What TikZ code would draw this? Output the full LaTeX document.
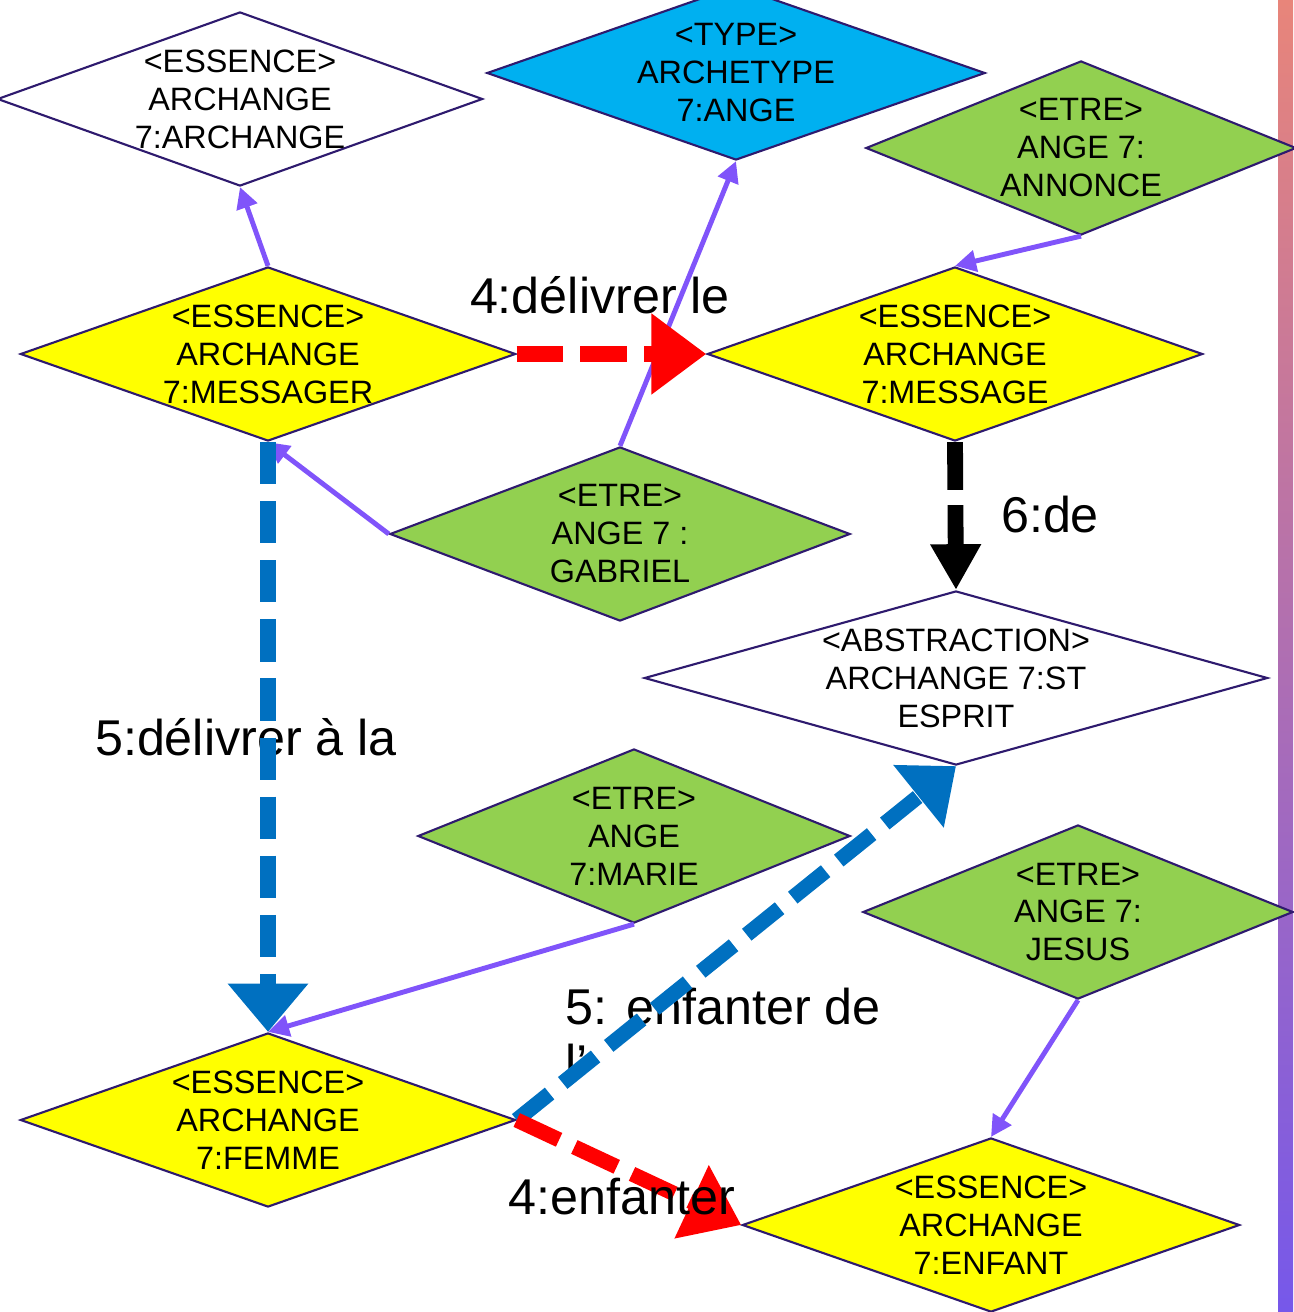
\documentclass[tikz,border=0pt]{standalone}
\usepackage{fontspec}
\setmainfont{Liberation Sans}
\usetikzlibrary{shapes.geometric, arrows.meta}
\definecolor{bordure}{RGB}{46,26,110}
\definecolor{violet}{RGB}{128,84,250}
\definecolor{bleulien}{RGB}{0,112,192}
\definecolor{vert}{RGB}{146,208,80}
\definecolor{jaune}{RGB}{255,255,0}
\definecolor{bleutype}{RGB}{0,176,240}
\definecolor{barhaut}{RGB}{232,133,122}
\definecolor{barbas}{RGB}{118,88,234}
\tikzset{
  x=0.01cm, y=-0.01cm,
  losange/.style={diamond, draw=bordure, line width=0.6pt, inner sep=0pt,
    minimum width=4.95cm, minimum height=1.74cm},
  texte/.style={align=center, inner sep=0pt, font=\fontsize{9.2}{10.8}\selectfont},
  essence/.style={losange, fill=jaune},
  etre/.style={losange, fill=vert, minimum width=4.3cm},
  lien/.style={draw=violet, line width=1.4pt, -{Triangle[length=6pt,width=6pt]}},
  rouge/.style={draw=red, line width=4.3pt, dash pattern=on 13.3pt off 4.8pt,
    -{Triangle[length=15.6pt,width=22pt]}},
  bleu/.style={draw=bleulien, line width=4.3pt, dash pattern=on 12pt off 4.8pt,
    -{Triangle[length=13.7pt,width=22pt]}},
  noir/.style={draw=black, line width=4.5pt, dash pattern=on 13.6pt off 4.3pt,
    -{Triangle[length=13pt,width=13.6pt]}},
  etiquette/.style={font=\fontsize{14.3}{16}\selectfont, inner sep=0pt},
}

\begin{document}
\begin{tikzpicture}
  \useasboundingbox (0,0) rectangle (1293,1312);
  \shade[top color=barhaut, bottom color=barbas] (1278,0) rectangle (1293,1312);

  % noeuds
  \node[losange, fill=white, minimum width=4.85cm,
    label={[texte]center:{<ESSENCE>\\ARCHANGE\\7:ARCHANGE}}] (archange) at (240,99) {};
  \node[losange, fill=bleutype, minimum width=4.98cm,
    label={[texte]center:{<TYPE>\\ARCHETYPE\\7:ANGE}}] (type) at (736,73) {};
  \node[etre, label={[texte]center:{<ETRE>\\ANGE 7:\\ANNONCE}}] (annonce) at (1081,148) {};
  \node[essence, label={[texte]center:{<ESSENCE>\\ARCHANGE\\7:MESSAGER}}] (messager) at (268,354) {};
  \node[essence, label={[texte]center:{<ESSENCE>\\ARCHANGE\\7:MESSAGE}}] (message) at (955,354) {};
  \node[etre, minimum width=4.6cm,
    label={[texte]center:{<ETRE>\\ANGE 7 :\\GABRIEL}}] (gabriel) at (620,534) {};
  \node[losange, fill=white, minimum width=6.23cm,
    label={[texte]center:{<ABSTRACTION>\\ARCHANGE 7:ST\\ESPRIT}}] (esprit) at (956,678) {};
  \node[etre, minimum width=4.32cm,
    label={[texte]center:{<ETRE>\\ANGE\\7:MARIE}}] (marie) at (634,836) {};
  \node[etre, label={[texte]center:{<ETRE>\\ANGE 7:\\JESUS}}] (jesus) at (1078,912) {};
  \node[essence, label={[texte]center:{<ESSENCE>\\ARCHANGE\\7:FEMME}}] (femme) at (268,1120) {};
  \node[essence, minimum width=4.97cm,
    label={[texte]center:{<ESSENCE>\\ARCHANGE\\7:ENFANT}}] (enfant) at (991,1225) {};

  % etiquettes
  \node[etiquette] (e1) at (600,295) {4:délivrer le};
  \node[etiquette] (e2) at (1050,515) {6:de};
  \node[etiquette] (e3) at (246,737) {5:délivrer à la};
  \node[etiquette, align=left, anchor=north west] (e4) at (565,987) {5: enfanter de\\l'};

  % liens
  \draw[lien] (messager.north) -- (archange.south);
  \draw[lien] (gabriel.north) -- (type.south);
  \draw[lien] (annonce.south) -- (message.north);
  \draw[lien] (gabriel.west) -- (messager.south);
  \draw[lien] (marie.south) -- (femme.north);
  \draw[lien] (jesus.south) -- (enfant.north);
  \draw[rouge] (messager.east) -- (message.west);
  \draw[noir] (message.south) -- (esprit.north);
  \draw[bleu] (messager.south) -- (femme.north);
  \draw[bleu] (femme.east) -- (esprit.south);
  \draw[rouge] (femme.east) -- (enfant.west);
  \node[etiquette] (e5) at (622,1197) {4:enfanter};
\end{tikzpicture}
\end{document}
